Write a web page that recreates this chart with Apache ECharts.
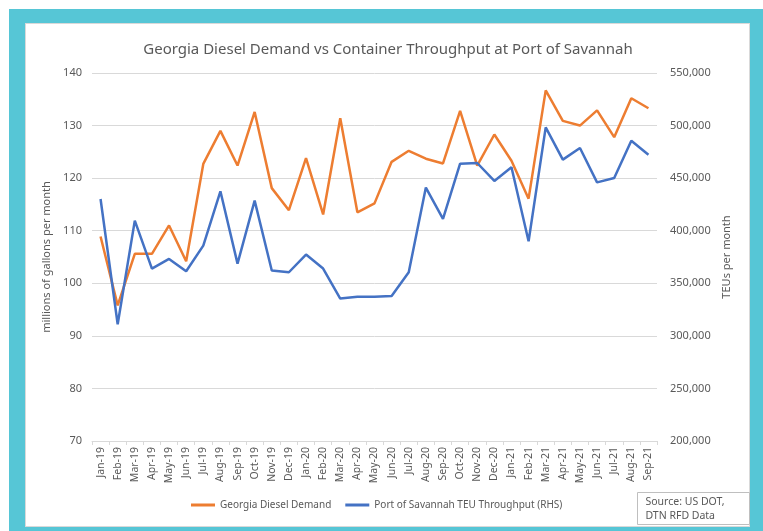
<!DOCTYPE html>
<html>
<head>
<meta charset="utf-8">
<script src="https://cdn.jsdelivr.net/npm/echarts@6/dist/echarts.min.js"></script>
<style>
    html, body { margin: 0; padding: 0; background: #fff; }
    #frame { position: absolute; left: 9px; top: 9px; width: 754px; height: 522px; background: #56c6d6; }
    #panel { position: absolute; left: 25px; top: 23px; width: 723px; height: 502px; background: #fff; border: 1px solid #d9d9d9; }
    #main { position: absolute; left: 0; top: 0; width: 763px; height: 531px; }
</style>
</head>
<body>
<div id="frame"></div>
<div id="panel"></div>
<div id="main"></div>
<script>
var months = ['Jan-19', 'Feb-19', 'Mar-19', 'Apr-19', 'May-19', 'Jun-19', 'Jul-19', 'Aug-19', 'Sep-19', 'Oct-19', 'Nov-19', 'Dec-19',
    'Jan-20', 'Feb-20', 'Mar-20', 'Apr-20', 'May-20', 'Jun-20', 'Jul-20', 'Aug-20', 'Sep-20', 'Oct-20', 'Nov-20', 'Dec-20',
    'Jan-21', 'Feb-21', 'Mar-21', 'Apr-21', 'May-21', 'Jun-21', 'Jul-21', 'Aug-21', 'Sep-21'];

//millions of gallons per month
var dieselDemand = [108.9, 95.8, 105.6, 105.6, 111.0, 104.2, 122.7, 129.0, 122.4, 132.6, 118.1, 113.9,
    123.8, 113.1, 131.4, 113.5, 115.2, 123.1, 125.2, 123.7, 122.8, 132.8, 122.4, 128.3,
    123.3, 116.1, 136.7, 130.9, 130.0, 132.9, 127.8, 135.2, 133.3];

//TEUs per month (RHS)
var teuThroughput = [430200, 311000, 409600, 364000, 373200, 361400, 385800, 437500, 368700, 428600, 362100, 360500,
    377300, 364000, 335500, 337100, 337100, 338000, 360500, 441000, 411200, 463800, 464400, 447300,
    460300, 390000, 498300, 467600, 478700, 446000, 450200, 485600, 472300];

var leftTicks = { min: 70, max: 140, step: 10 };
var rightTicks = { min: 200000, max: 550000, step: 50000 };

var txt = '#595959';
var font = 'Noto Sans';
var colors = ['#ed7d31', '#4472c4'];

var chart = echarts.init(document.getElementById('main'), null, { renderer: 'canvas' });
var option = {
    animation: false,
    backgroundColor: 'transparent',
    color: colors,
    textStyle: { fontFamily: font, color: txt },
    title: {
        text: 'Georgia Diesel Demand vs Container Throughput at Port of Savannah',
        left: 383,
        textAlign: 'center',
        top: 37,
        textStyle: { fontFamily: font, fontSize: 15, fontWeight: 'normal', color: txt }
    },
    legend: {
        top: 495,
        left: 186,
        itemWidth: 24,
        itemHeight: 3,
        itemGap: 14,
        icon: 'rect',
        textStyle: { fontFamily: font, fontSize: 10, color: txt },
        data: ['Georgia Diesel Demand', 'Port of Savannah TEU Throughput (RHS)']
    },
    grid: { left: 92, right: 106, top: 73, bottom: 90 },
    xAxis: {
        type: 'category',
        data: months,
        boundaryGap: true,
        axisLine: { lineStyle: { color: '#d9d9d9' } },
        axisTick: { show: true, length: 4, lineStyle: { color: '#d9d9d9' } },
        axisLabel: { rotate: 90, interval: 0, fontSize: 10.5, color: txt, fontFamily: font, margin: 6 }
    },
    yAxis: [
        {
            type: 'value',
            min: leftTicks.min,
            max: leftTicks.max,
            interval: leftTicks.step,
            name: 'millions of gallons per month',
            nameLocation: 'middle',
            nameGap: 35,
            nameTextStyle: { fontFamily: font, fontSize: 11, color: txt },
            axisLine: { show: false },
            axisTick: { show: false },
            axisLabel: { fontSize: 11, color: txt, fontFamily: font, margin: 10 },
            splitLine: { lineStyle: { color: '#d9d9d9' } }
        },
        {
            type: 'value',
            min: rightTicks.min,
            max: rightTicks.max,
            interval: rightTicks.step,
            name: 'TEUs per month',
            nameLocation: 'middle',
            nameGap: 56,
            nameTextStyle: { fontFamily: font, fontSize: 11, color: txt },
            axisLine: { show: false },
            axisTick: { show: false },
            axisLabel: {
                fontSize: 11, color: txt, fontFamily: font, margin: 13,
                formatter: function (v) { return v.toLocaleString('en-US'); }
            },
            splitLine: { show: false }
        }
    ],
    series: [
        {
            name: 'Georgia Diesel Demand',
            type: 'line',
            yAxisIndex: 0,
            symbol: 'none',
            lineStyle: { width: 2.5 },
            data: dieselDemand
        },
        {
            name: 'Port of Savannah TEU Throughput (RHS)',
            type: 'line',
            yAxisIndex: 1,
            symbol: 'none',
            lineStyle: { width: 2.5 },
            data: teuThroughput
        }
    ],
    graphic: [
        {
            type: 'group',
            left: 637,
            top: 492,
            children: [
                { type: 'rect', shape: { x: 0, y: 0, width: 112, height: 32 }, style: { fill: '#fff', stroke: '#bfbfbf', lineWidth: 1 } },
                { type: 'text', x: 8, y: 3, style: { text: 'Source: US DOT,\nDTN RFD Data', fill: txt, font: '10.5px "Noto Sans"', lineHeight: 14 } }
            ]
        }
    ]
};
chart.setOption(option);
</script>
</body>
</html>
